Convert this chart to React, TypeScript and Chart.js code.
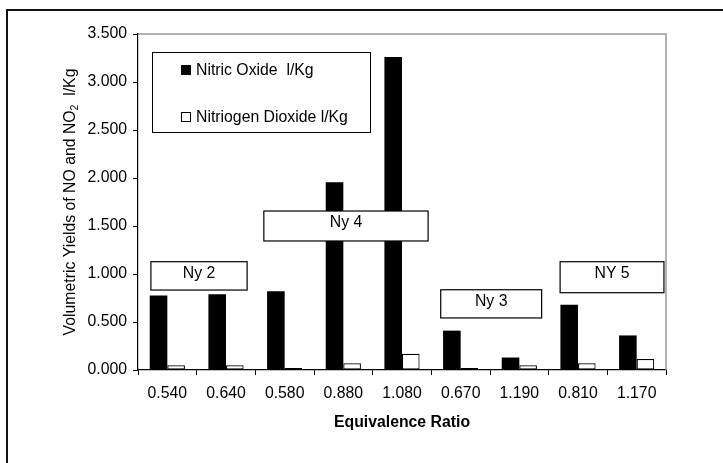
import { useEffect, useRef } from "react";
import { Chart, registerables } from "chart.js";

Chart.register(...registerables);

// ---- data ----
const categories = ["0.540", "0.640", "0.580", "0.880", "1.080", "0.670", "1.190", "0.810", "1.170"];
const nitricOxide = [0.775, 0.79, 0.82, 1.955, 3.26, 0.41, 0.13, 0.68, 0.36];
const nitrogenDioxide = [0.05, 0.05, 0.02, 0.07, 0.17, 0.02, 0.05, 0.07, 0.115];
const seriesNames = ["Nitric Oxide  l/Kg", "Nitriogen Dioxide l/Kg"];
const groupLabels = ["Ny 2", "Ny 4", "Ny 3", "NY 5"];
// group label placement: category-centre (fractional index), span in categories, top & bottom value
const groupCenters = [0.54, 3.045, 5.52, 7.58];
const groupSpans = [1.64, 2.8, 1.72, 1.77];
const groupTops = [1.128, 1.656, 0.836, 1.128];
const groupBottoms = [0.833, 1.344, 0.542, 0.805];
const yMin = 0;
const yMax = 3.5;
const yStep = 0.5;
const xTitle = "Equivalence Ratio";

const FONT = "'Liberation Sans', Arial, Helvetica, sans-serif";
const FS = 15.8;

const decorPlugin = {
  id: "decor",
  afterDatasetsDraw(chart: any) {
    const ctx: CanvasRenderingContext2D = chart.ctx;
    const { left, right, top, bottom } = chart.chartArea;
    const xs = chart.scales.x;
    const ys = chart.scales.y;
    const catW = (right - left) / categories.length;
    ctx.save();

    // plot-area gray border (top & right)
    ctx.strokeStyle = "#9a9a9a";
    ctx.lineWidth = 1.5;
    ctx.beginPath();
    ctx.moveTo(left, top);
    ctx.lineTo(right, top);
    ctx.lineTo(right, bottom);
    ctx.stroke();

    // group label boxes
    ctx.font = `${FS}px ${FONT}`;
    ctx.textAlign = "center";
    ctx.textBaseline = "middle";
    groupLabels.forEach((lab, i) => {
      const cx = xs.getPixelForValue(0) + groupCenters[i] * catW;
      const w = groupSpans[i] * catW;
      const y1 = ys.getPixelForValue(groupTops[i]);
      const y2 = ys.getPixelForValue(groupBottoms[i]);
      ctx.fillStyle = "#fff";
      ctx.fillRect(cx - w / 2, y1, w, y2 - y1);
      ctx.strokeStyle = "#000";
      ctx.lineWidth = 1.2;
      ctx.strokeRect(cx - w / 2, y1, w, y2 - y1);
      ctx.fillStyle = "#000";
      ctx.fillText(lab, cx, y1 + 11.5);
    });

    // legend box
    const lx = left + 14;
    const ly = top + 18;
    const lw = 218;
    const lh = 80;
    ctx.fillStyle = "#fff";
    ctx.fillRect(lx, ly, lw, lh);
    ctx.strokeStyle = "#000";
    ctx.lineWidth = 1;
    ctx.strokeRect(lx + 0.5, ly + 0.5, lw, lh);
    const rowsY = [ly + 18, ly + 65];
    ctx.textAlign = "left";
    ctx.textBaseline = "middle";
    seriesNames.forEach((name, i) => {
      const sx = lx + 29;
      const sy = rowsY[i] - 5;
      if (i === 0) {
        ctx.fillStyle = "#000";
        ctx.fillRect(sx, sy, 10, 10);
      } else {
        ctx.fillStyle = "#fff";
        ctx.fillRect(sx, sy, 10, 10);
        ctx.strokeStyle = "#000";
        ctx.lineWidth = 1;
        ctx.strokeRect(sx + 0.5, sy + 0.5, 9, 9);
      }
      ctx.fillStyle = "#000";
      ctx.fillText(name, lx + 44, rowsY[i] + 1);
    });

    // y-axis title with subscript
    const cy = (top + bottom) / 2;
    ctx.translate(70, cy);
    ctx.rotate(-Math.PI / 2);
    const p1 = "Volumetric Yields of NO and NO";
    const p2 = "2";
    const p3 = "  l/Kg";
    ctx.font = `${FS}px ${FONT}`;
    const w1 = ctx.measureText(p1).width;
    const w3 = ctx.measureText(p3).width;
    ctx.font = `10.5px ${FONT}`;
    const w2 = ctx.measureText(p2).width;
    const tot = w1 + w2 + w3;
    let x0 = -tot / 2;
    ctx.fillStyle = "#000";
    ctx.textBaseline = "alphabetic";
    ctx.font = `${FS}px ${FONT}`;
    ctx.fillText(p1, x0, 5);
    x0 += w1;
    ctx.font = `10.5px ${FONT}`;
    ctx.fillText(p2, x0, 8);
    x0 += w2;
    ctx.font = `${FS}px ${FONT}`;
    ctx.fillText(p3, x0, 5);
    ctx.setTransform(1, 0, 0, 1, 0, 0);
    ctx.restore();
    ctx.save();

    // x-axis title
    ctx.font = `bold ${FS}px ${FONT}`;
    ctx.fillStyle = "#000";
    ctx.textAlign = "center";
    ctx.textBaseline = "middle";
    ctx.fillText(xTitle, (left + right) / 2, 423);

    // outer frame
    ctx.strokeStyle = "#111";
    ctx.lineWidth = 2;
    ctx.strokeRect(7, 10, 900, 700);
    ctx.restore();
  },
};

export default function App() {
  const ref = useRef<HTMLCanvasElement | null>(null);
  useEffect(() => {
    document.body.style.margin = "0";
    document.body.style.background = "#fff";
    if (!ref.current) return;
    Chart.defaults.font.family = FONT;
    const chart = new Chart(ref.current, {
      type: "bar",
      data: {
        labels: categories,
        datasets: [
          {
            label: seriesNames[0],
            data: nitricOxide,
            backgroundColor: "#000",
            borderWidth: 0,
            categoryPercentage: 0.6,
            barPercentage: 1,
          },
          {
            label: seriesNames[1],
            data: nitrogenDioxide,
            backgroundColor: "#fff",
            borderColor: "#000",
            borderWidth: 1.2,
            borderSkipped: false,
            categoryPercentage: 0.6,
            barPercentage: 1,
          },
        ],
      },
      options: {
        animation: false,
        responsive: false,
        maintainAspectRatio: false,
        layout: { padding: { left: 20, right: 57, top: 34, bottom: 33 } },
        plugins: { legend: { display: false }, tooltip: { enabled: false }, title: { display: false } },
        scales: {
          x: {
            grid: { display: true, drawOnChartArea: false, drawTicks: true, tickLength: 5, color: "#000", offset: true },
            border: { display: true, color: "#000", width: 1.2 },
            ticks: { color: "#000", font: { size: FS, family: FONT }, padding: 9, maxRotation: 0, autoSkip: false },
            afterFit: (s: any) => {
              s.height = 60;
            },
          },
          y: {
            min: yMin,
            max: yMax,
            grid: { display: true, drawOnChartArea: false, drawTicks: true, tickLength: 5, color: "#000" },
            border: { display: true, color: "#000", width: 1.2 },
            ticks: {
              stepSize: yStep,
              color: "#000",
              font: { size: FS, family: FONT },
              padding: 6,
              callback: (v: any) => Number(v).toFixed(3),
            },
            afterFit: (s: any) => {
              s.width = 118;
            },
          },
        },
      },
      plugins: [decorPlugin],
    });
    return () => chart.destroy();
  }, []);
  return <canvas ref={ref} width={723} height={463} style={{ display: "block" }} />;
}
